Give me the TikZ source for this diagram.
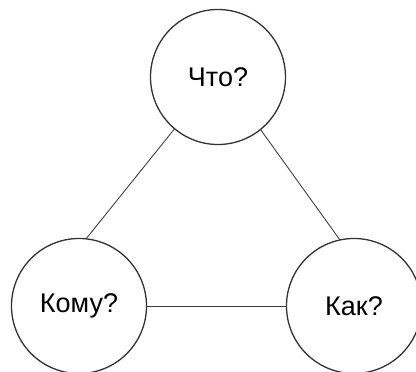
\documentclass[tikz,border=0pt]{standalone}
\usepackage{fontspec}
\setmainfont{Liberation Sans}
\begin{document}
\begin{tikzpicture}[x=1pt, y=-1pt, inner sep=0pt, outer sep=0pt,
  bubble/.style={circle, draw=black!80, line width=1.3pt, minimum size=135pt,
    font=\fontsize{27}{32}\selectfont},
  link/.style={draw=black!75, line width=0.9pt}]
\useasboundingbox (0,0) rectangle (416,372);
  \node[bubble] (what) at (218,77) {Что?};
  \node[bubble] (whom) at (79,306) {Кому?};
  \node[bubble] (how) at (354,306) {Как?};
  \path[link] (what.230) -- (whom.84);
  \path[link] (what.309) -- (how.102);
  \path[link] (whom.east) -- (how.west);
\end{tikzpicture}
\end{document}
